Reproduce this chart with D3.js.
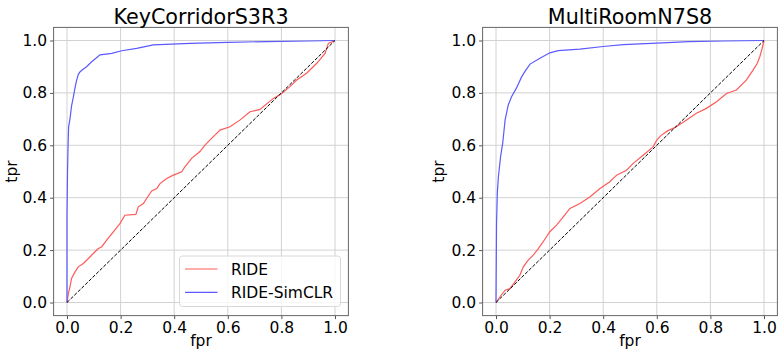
<!DOCTYPE html>
<html><head><meta charset="utf-8">
<script src="https://cdn.jsdelivr.net/npm/d3@7"></script>
<style>body{margin:0;background:#fff}svg{display:block}text{font-family:"DejaVu Sans",sans-serif;fill:#000}</style>
</head><body>
<script>
const titles = ["KeyCorridorS3R3", "MultiRoomN7S8"];
const seriesNames = ["RIDE", "RIDE-SimCLR"];
const tickValues = [0, 0.2, 0.4, 0.6, 0.8, 1.0];
const tickLabels = ["0.0", "0.2", "0.4", "0.6", "0.8", "1.0"];

const keyRide = [[0,0],[0.005,0.034],[0.011,0.06],[0.017,0.092],[0.03,0.117],[0.042,0.136],[0.061,0.149],[0.08,0.168],[0.098,0.187],[0.117,0.206],[0.129,0.212],[0.148,0.238],[0.173,0.27],[0.198,0.302],[0.216,0.333],[0.257,0.336],[0.266,0.365],[0.285,0.378],[0.297,0.397],[0.316,0.426],[0.335,0.435],[0.347,0.454],[0.372,0.473],[0.397,0.486],[0.428,0.499],[0.44,0.518],[0.465,0.55],[0.496,0.576],[0.515,0.601],[0.546,0.633],[0.571,0.658],[0.608,0.671],[0.646,0.697],[0.683,0.728],[0.72,0.737],[0.77,0.779],[0.801,0.798],[0.832,0.824],[0.857,0.849],[0.894,0.875],[0.932,0.913],[0.963,0.951],[0.975,0.989],[1,1]];
const keySimclr = [[0,0],[0,0.33],[0.002,0.5],[0.004,0.6],[0.006,0.67],[0.011,0.7],[0.017,0.75],[0.024,0.786],[0.03,0.82],[0.036,0.849],[0.042,0.87],[0.049,0.881],[0.06,0.89],[0.073,0.9],[0.092,0.919],[0.108,0.932],[0.123,0.945],[0.167,0.951],[0.204,0.961],[0.26,0.97],[0.322,0.983],[0.459,0.989],[0.6,0.993],[0.745,0.996],[0.9,0.998],[1,1]];
const multiRide = [[0,0],[0.015,0.022],[0.034,0.047],[0.052,0.053],[0.071,0.079],[0.089,0.104],[0.102,0.136],[0.12,0.162],[0.139,0.181],[0.158,0.206],[0.176,0.232],[0.201,0.27],[0.226,0.295],[0.251,0.327],[0.276,0.359],[0.313,0.378],[0.35,0.403],[0.388,0.435],[0.425,0.461],[0.45,0.486],[0.487,0.505],[0.512,0.531],[0.549,0.562],[0.586,0.594],[0.6,0.62],[0.615,0.637],[0.64,0.655],[0.673,0.671],[0.711,0.697],[0.748,0.722],[0.785,0.741],[0.823,0.766],[0.86,0.798],[0.897,0.811],[0.934,0.849],[0.959,0.887],[0.975,0.913],[0.985,0.94],[0.993,0.97],[1,1]];
const multiSimclr = [[0,0],[0.002,0.3],[0.005,0.42],[0.009,0.48],[0.017,0.556],[0.025,0.608],[0.034,0.697],[0.046,0.755],[0.058,0.785],[0.077,0.82],[0.096,0.862],[0.11,0.885],[0.127,0.91],[0.164,0.932],[0.201,0.953],[0.232,0.961],[0.313,0.967],[0.4,0.977],[0.475,0.984],[0.6,0.99],[0.72,0.996],[0.85,0.998],[1,1]];

const W = 778, H = 351;
const svg = d3.select("body").append("svg").attr("width", W).attr("height", H);

const panels = [
  {title: titles[0], ride: keyRide, simclr: keySimclr, left: 53.6, right: 348.4, ylabOff: 36.5, legend: true},
  {title: titles[1], ride: multiRide, simclr: multiSimclr, left: 482.6, right: 777.4, ylabOff: 38.5, legend: false}
];
const plotTop = 27.4, plotBottom = 315.6;
const colors = ["#ff5a5a", "#5a5aff"];

panels.forEach(p => {
  const x = d3.scaleLinear().domain([-0.05, 1.05]).range([p.left, p.right]);
  const y = d3.scaleLinear().domain([-0.05, 1.05]).range([plotBottom, plotTop]);
  const g = svg.append("g");

  g.selectAll(".gx").data(tickValues).join("line")
    .attr("x1", d => x(d)).attr("x2", d => x(d)).attr("y1", plotTop).attr("y2", plotBottom)
    .attr("stroke", "#d2d2d2").attr("stroke-width", 1);
  g.selectAll(".gy").data(tickValues).join("line")
    .attr("y1", d => y(d)).attr("y2", d => y(d)).attr("x1", p.left).attr("x2", p.right)
    .attr("stroke", "#d2d2d2").attr("stroke-width", 1);

  const xa = g.append("g").attr("transform", `translate(0,${plotBottom})`)
    .call(d3.axisBottom(x).tickValues(tickValues).tickFormat((d,i) => tickLabels[i]).tickSize(3.5).tickPadding(3));
  const ya = g.append("g").attr("transform", `translate(${p.left},0)`)
    .call(d3.axisLeft(y).tickValues(tickValues).tickFormat((d,i) => tickLabels[i]).tickSize(3.5).tickPadding(3));
  [xa, ya].forEach(a => {
    a.select(".domain").remove();
    a.selectAll("line").attr("stroke", "#555");
    a.selectAll("text").style("font-family", "DejaVu Sans").style("font-size", "15.5px").attr("fill", "#000");
  });

  const line = d3.line().x(d => x(d[0])).y(d => y(d[1]));
  g.append("path").datum(p.ride).attr("d", line).attr("fill", "none").attr("stroke", colors[0]).attr("stroke-width", 1.2);
  g.append("path").datum(p.simclr).attr("d", line).attr("fill", "none").attr("stroke", colors[1]).attr("stroke-width", 1.2);
  g.append("path").datum([[0,0],[1,1]]).attr("d", line).attr("fill", "none").attr("stroke", "#000").attr("stroke-width", 1).attr("stroke-dasharray", "3.5,1.6");

  g.append("rect").attr("x", p.left).attr("y", plotTop).attr("width", p.right - p.left).attr("height", plotBottom - plotTop)
    .attr("fill", "none").attr("stroke", "#666").attr("stroke-width", 1);

  const cx = (p.left + p.right) / 2;
  g.append("text").attr("x", cx).attr("y", 24).attr("text-anchor", "middle").style("font-size", "20.7px").text(p.title);
  g.append("text").attr("x", cx).attr("y", 346).attr("text-anchor", "middle").style("font-size", "15.5px").text("fpr");
  g.append("text").attr("transform", `translate(${p.left - p.ylabOff},${(plotTop + plotBottom) / 2}) rotate(-90)`)
    .attr("text-anchor", "middle").style("font-size", "15.5px").text("tpr");

  if (p.legend) {
    const lx = 179.5, ly = 256, lw = 161, lh = 50.5;
    const lg = g.append("g");
    lg.append("rect").attr("x", lx).attr("y", ly).attr("width", lw).attr("height", lh).attr("rx", 3)
      .attr("fill", "#fff").attr("fill-opacity", 0.8).attr("stroke", "#d8d8d8").attr("stroke-width", 1);
    seriesNames.forEach((n, i) => {
      const yy = ly + 13 + i * 23.3;
      lg.append("line").attr("x1", lx + 5.5).attr("x2", lx + 38).attr("y1", yy).attr("y2", yy)
        .attr("stroke", colors[i]).attr("stroke-width", 1.2);
      lg.append("text").attr("x", lx + 51.5).attr("y", yy + 5.5).style("font-size", "15.5px").text(n);
    });
  }
});
</script>
</body></html>
